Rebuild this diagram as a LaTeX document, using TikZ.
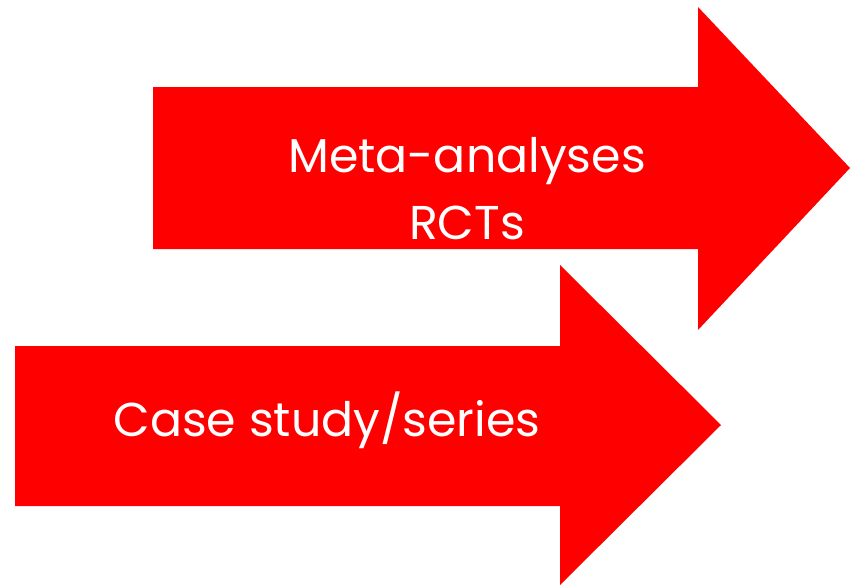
\documentclass[tikz,border=0pt]{standalone}
\usepackage{fontspec}
\setmainfont{Poppins}
\tikzset{label text/.style={white,font=\fontsize{27}{38}\selectfont,align=center}}
\begin{document}
\begin{tikzpicture}[x=0.02cm,y=-0.02cm]
\useasboundingbox (0,0) rectangle (850,585);
% upper arrow
\fill[red](153,87)--(698,87)--(698,7)--(850,168)--(698,330)--(698,249)--(153,249)--cycle;
% lower arrow
\fill[red](15,346)--(560,346)--(560,265)--(721,425)--(560,585)--(560,506)--(15,506)--cycle;
\node[label text] (meta) at (467,189) {Meta-analyses\\RCTs};
\node[label text,anchor=base] (case) at (327,436) {Case study/series};
\end{tikzpicture}
\end{document}
